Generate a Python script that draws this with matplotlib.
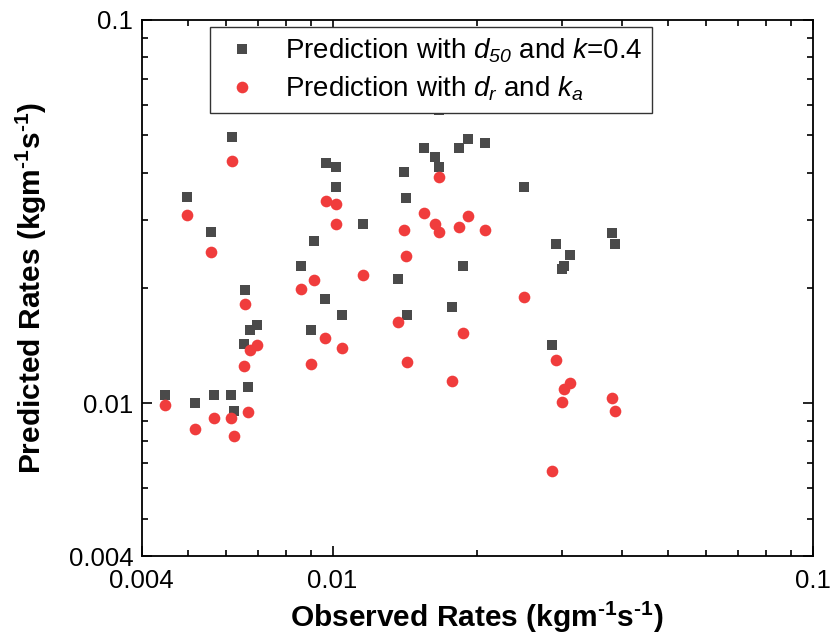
import matplotlib
matplotlib.use('Agg')
import matplotlib.pyplot as plt
from matplotlib.ticker import FixedLocator, FixedFormatter, NullFormatter

plt.rcParams['font.family'] = ['Liberation Sans', 'DejaVu Sans']
plt.rcParams['mathtext.fontset'] = 'custom'
plt.rcParams['mathtext.rm'] = 'Liberation Sans:bold'
plt.rcParams['mathtext.it'] = 'Liberation Sans:italic'
plt.rcParams['mathtext.sf'] = 'Liberation Sans:italic'
plt.rcParams['mathtext.bf'] = 'Liberation Sans:bold'

# observed rates (same for both predictions)
observed = [0.00448, 0.00498, 0.00516, 0.00558, 0.00565, 0.00615, 0.00618, 0.00624,
            0.00655, 0.00658, 0.00665, 0.00672, 0.00697, 0.00858, 0.00903, 0.00915,
            0.00966, 0.00969, 0.01016, 0.01016, 0.01048, 0.01155, 0.01369, 0.01411,
            0.01419, 0.01429, 0.01550, 0.01633, 0.01668, 0.01669, 0.01770, 0.01832,
            0.01871, 0.01918, 0.02078, 0.02500, 0.02869, 0.02924, 0.03000, 0.03029,
            0.03127, 0.03825, 0.03867]

# prediction with d50 and k=0.4
pred_d50 = [0.01049, 0.03459, 0.01004, 0.02804, 0.01051, 0.01051, 0.04943, 0.00956,
            0.01430, 0.01971, 0.01101, 0.01553, 0.01603, 0.02278, 0.01553, 0.02651,
            0.01871, 0.04243, 0.04135, 0.03659, 0.01700, 0.02941, 0.02114, 0.04012,
            0.03426, 0.01697, 0.04643, 0.04384, 0.04143, 0.05823, 0.01781, 0.04643,
            0.02278, 0.04900, 0.04784, 0.03659, 0.01419, 0.02604, 0.02245, 0.02283,
            0.02438, 0.02787, 0.02604]

# prediction with dr and ka
pred_dr = [0.00990, 0.03105, 0.00857, 0.02477, 0.00916, 0.00916, 0.04286, 0.00822,
           0.01251, 0.01819, 0.00949, 0.01375, 0.01419, 0.01991, 0.01269, 0.02094,
           0.01483, 0.03378, 0.03305, 0.02931, 0.01391, 0.02165, 0.01630, 0.02836,
           0.02428, 0.01282, 0.03137, 0.02936, 0.02798, 0.03903, 0.01144, 0.02878,
           0.01528, 0.03075, 0.02826, 0.01894, 0.00666, 0.01295, 0.01010, 0.01090,
           0.01132, 0.01034, 0.00956]

tick_vals = [0.004, 0.01, 0.1]
tick_labels = ['0.004', '0.01', '0.1']
minor_vals = [0.005, 0.006, 0.007, 0.008, 0.009,
              0.02, 0.03, 0.04, 0.05, 0.06, 0.07, 0.08, 0.09]

fig = plt.figure(figsize=(8.33, 6.38), dpi=100)
ax = fig.add_axes([0.170, 0.1285, 0.8055, 0.8402])

ax.plot(observed, pred_d50, linestyle='none', marker='s', markersize=7.6,
        color='#4a4a4a', markeredgewidth=0,
        label=r'Prediction with $\mathit{d}_{\mathsf{50}}$ and $\mathit{k}$=0.4')
ax.plot(observed, pred_dr, linestyle='none', marker='o', markersize=8.4,
        color='#f03c3c', markeredgewidth=0,
        label=r'Prediction with $\mathit{d}_{\mathit{r}}$ and $\mathit{k}_{\mathit{a}}$')

ax.set_xscale('log')
ax.set_yscale('log')
ax.set_xlim(0.004, 0.1)
ax.set_ylim(0.004, 0.1)

for axis in (ax.xaxis, ax.yaxis):
    axis.set_major_locator(FixedLocator(tick_vals))
    axis.set_major_formatter(FixedFormatter(tick_labels))
    axis.set_minor_locator(FixedLocator(minor_vals))
    axis.set_minor_formatter(NullFormatter())

ax.tick_params(which='both', direction='in', top=True, right=True, width=1.2, labelsize=18.5)
ax.tick_params(which='major', length=7)
ax.tick_params(which='minor', length=4)
ax.tick_params(axis='x', pad=9)
ax.tick_params(axis='y', pad=6)
for sp in ax.spines.values():
    sp.set_linewidth(1.3)

sup = r'$^{\text{-1}}$'
ax.set_xlabel('Observed Rates (kgm' + sup + 's' + sup + ')', fontsize=21.5,
              fontweight='bold', labelpad=5)
ax.set_ylabel('Predicted Rates (kgm' + sup + 's' + sup + ')', fontsize=21.5,
              fontweight='bold', labelpad=14)

leg = ax.legend(loc='upper left', bbox_to_anchor=(0.102, 0.987), borderaxespad=0,
                fontsize=20, frameon=True, fancybox=False, framealpha=1,
                edgecolor='#333333', borderpad=0.35, handletextpad=0.75,
                labelspacing=0.35, handlelength=1.6)
leg.get_frame().set_linewidth(1.0)
leg.set_zorder(5)

fig.savefig('out.png', dpi=100)
